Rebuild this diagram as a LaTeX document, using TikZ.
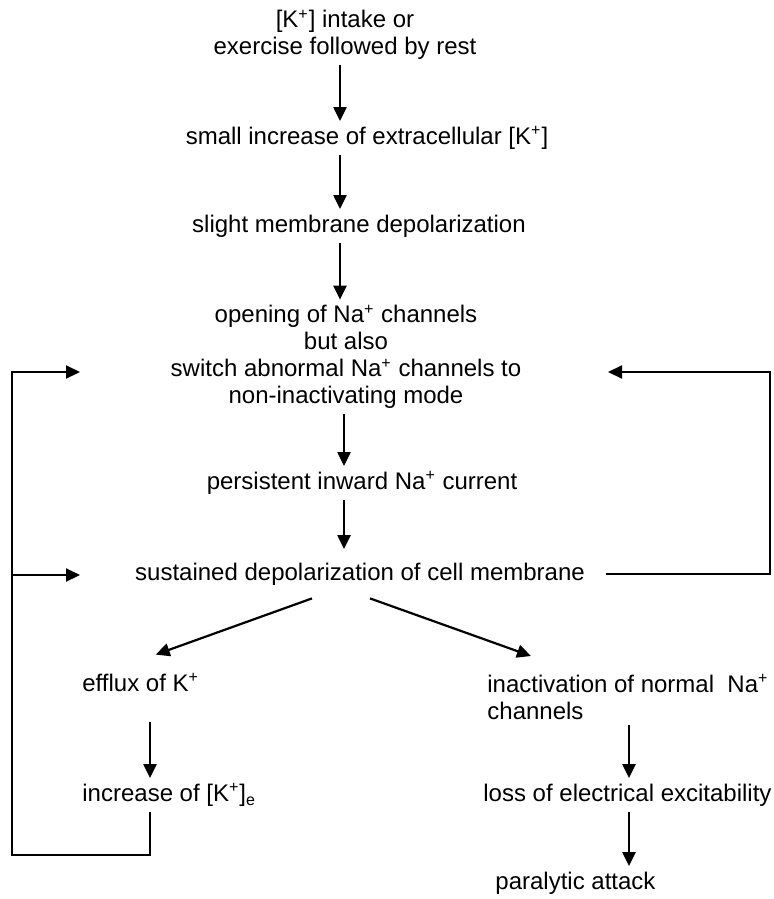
\documentclass[tikz,border=0pt]{standalone}
\usepackage{fontspec}
\setmainfont{Liberation Sans}
\usetikzlibrary{arrows.meta}

\begin{document}
\begin{tikzpicture}[x=0.5pt, y=-0.5pt,
  txt/.style={inner sep=2.5pt, font=\fontsize{12}{13.5}\selectfont},
  one/.style={txt, text height=9pt, text depth=2.5pt},
  arr/.style={line width=1.1pt, -{Triangle[length=7pt,width=6.5pt]}},
  fb/.style={line width=1.1pt}]
\useasboundingbox (0,0) rectangle (773,899);

% Main chain
\node[txt, align=center] (intake) at (345,35) {[K\textsuperscript{+}] intake or\\exercise followed by rest};
\node[one] (small) at (367,138) {small increase of extracellular [K\textsuperscript{+}]};
\node[one] (slight) at (359,226) {slight membrane depolarization};
\node[txt, align=center] (opening) at (346,357) {opening of Na\textsuperscript{+} channels\\but also\\switch abnormal Na\textsuperscript{+} channels to\\non-inactivating mode};
\node[one] (persist) at (362,483) {persistent inward Na\textsuperscript{+} current};
\node[one] (sustain) at (360,574) {sustained depolarization of cell membrane};

% Two branches
\node[one, anchor=west] (efflux) at (77,685) {efflux of K\textsuperscript{+}};
\node[one, anchor=west] (incr) at (77,795) {increase of [K\textsuperscript{+}]\textsubscript{e}};
\node[txt, align=left, anchor=west] (inact) at (482,697) {inactivation of normal\ \ Na\textsuperscript{+}\\channels};
\node[one, anchor=west] (loss) at (478,795) {loss of electrical excitability};
\node[one, anchor=west] (attack) at (490,883) {paralytic attack};

% Columns and corners
\coordinate (spine) at (340,0);
\coordinate (spinelow) at (344,0);
\coordinate (kcol) at (150,0);
\coordinate (nacol) at (629,0);
\coordinate (lbot) at (12,855);
\coordinate (ltop) at (80,372);
\coordinate (lmid) at (80,575);
\coordinate (rtop) at (770,372);
\coordinate (rin) at (608,372);

% Arrows down the chain
\draw[arr] (intake.south -| spine) -- (small.north -| spine);
\draw[arr] (small.south -| spine) -- (slight.north -| spine);
\draw[arr] (slight.south -| spine) -- (opening.north -| spine);
\draw[arr] (opening.south -| spinelow) -- (persist.north -| spinelow);
\draw[arr, shorten >=4pt] (persist.south -| spinelow) -- (sustain.north -| spinelow);

% Split
\draw[arr] ([xshift=-24pt,yshift=-3.75pt]sustain.south) -- ([xshift=7.5pt,yshift=6.75pt]efflux.north);
\draw[arr] ([xshift=5pt,yshift=-3.75pt]sustain.south) -- ([xshift=-48.5pt,yshift=6.5pt]inact.north);

% Branches
\draw[arr, shorten <=10pt] (efflux.south -| kcol) -- (incr.north -| kcol);
\draw[arr] (inact.south -| nacol) -- (loss.north -| nacol);
\draw[arr] (loss.south -| nacol) -- (attack.north -| nacol);

% Feedback loops
\draw[arr] (incr.south -| kcol) |- (lbot) |- (ltop);
\draw[arr] (lbot |- lmid) -- (lmid);
\draw[arr, shorten <=8pt] (sustain.east) -| (rtop) -- (rin);
\end{tikzpicture}
\end{document}
